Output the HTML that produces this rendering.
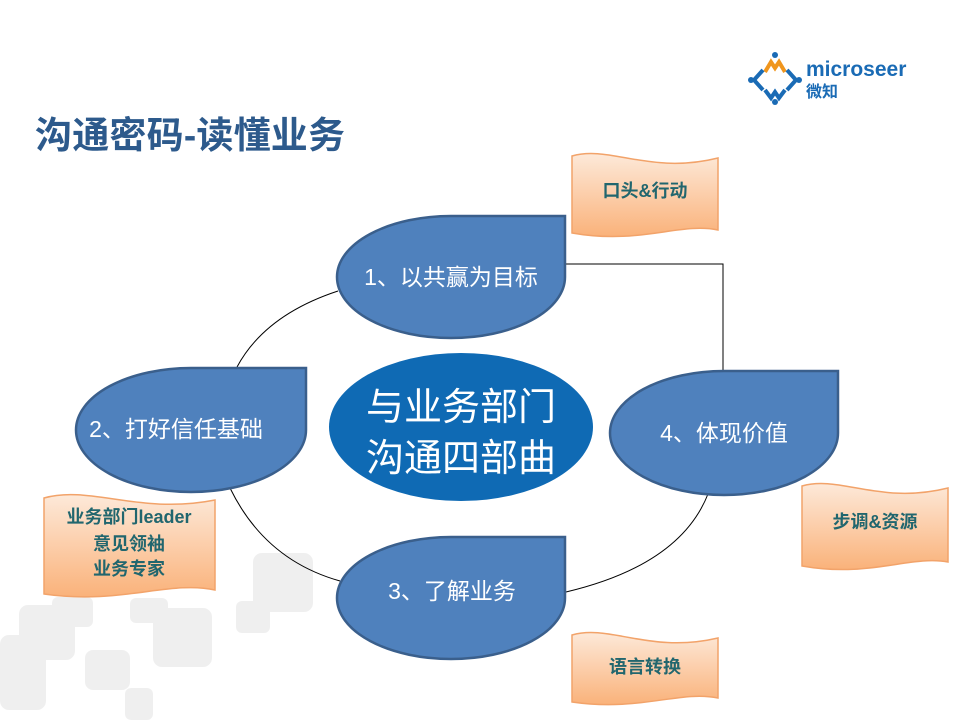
<!DOCTYPE html>
<html><head><meta charset="utf-8"><style>
html,body{margin:0;padding:0;background:#fff;}
body{width:960px;height:720px;overflow:hidden;position:relative;font-family:"Liberation Sans","Noto Sans CJK SC",sans-serif;}
</style></head><body>
<svg width="960" height="720" viewBox="0 0 960 720" xmlns="http://www.w3.org/2000/svg" style="position:absolute;left:0;top:0">
<defs>
<linearGradient id="og" x1="0" y1="0" x2="0" y2="1">
<stop offset="0" stop-color="#fde9d9"/><stop offset="1" stop-color="#fab27a"/>
</linearGradient>
</defs>
<g fill="#e6e6e6" opacity="0.6">
<rect x="253" y="553" width="60" height="59" rx="9"/>
<rect x="236" y="601" width="34" height="32" rx="6"/>
<rect x="153" y="608" width="59" height="59" rx="9"/>
<rect x="19" y="605" width="56" height="55" rx="9"/>
<rect x="0" y="635" width="46" height="75" rx="9"/>
<rect x="52" y="597" width="41" height="30" rx="6"/>
<rect x="85" y="650" width="45" height="40" rx="8"/>
<rect x="125" y="688" width="28" height="32" rx="6"/>
<rect x="130" y="598" width="38" height="25" rx="6"/>
</g>
<g>
<circle cx="775" cy="55" r="3" fill="#1a6bb5"/>
<path d="M765 72 L771 62 L775 68 L779 62 L785 72" fill="none" stroke="#f0961e" stroke-width="4"/>
<path d="M763 70 L754 80 L763 90 M787 70 L796 80 L787 90 M765 90 L771 98 L775 92 L779 98 L785 90" fill="none" stroke="#1a6bb5" stroke-width="4"/>
<circle cx="751" cy="80" r="3" fill="#1a6bb5"/><circle cx="799" cy="80" r="3" fill="#1a6bb5"/><circle cx="775" cy="102" r="3" fill="#1a6bb5"/>
<text x="806" y="76" font-size="21" font-weight="bold" fill="#1a6bb5" font-family="Liberation Sans,sans-serif">microseer</text>
<text x="806" y="97" font-size="16" font-weight="bold" fill="#1a6bb5" font-family="Noto Sans CJK SC,sans-serif">微知</text>
</g>
<text x="35" y="148" font-size="37" font-weight="bold" fill="#2d5a8c" font-family="Liberation Sans,Noto Sans CJK SC,sans-serif" textLength="310">沟通密码-读懂业务</text>
<path d="M565 264 L723 264 L723 372" fill="none" stroke="#000" stroke-width="1"/>
<path d="M338 291 Q265 315 237 367" fill="none" stroke="#000" stroke-width="1"/>
<path d="M230 488 Q265 560 340 581" fill="none" stroke="#000" stroke-width="1"/>
<path d="M566 592 Q680 565 708 494" fill="none" stroke="#000" stroke-width="1"/>
<ellipse cx="461" cy="427" rx="132" ry="74" fill="#0f6ab4"/>
<text x="461" y="420" font-size="38" fill="#fff" text-anchor="middle" font-family="Noto Sans CJK SC,sans-serif">与业务部门</text>
<text x="461" y="471" font-size="38" fill="#fff" text-anchor="middle" font-family="Noto Sans CJK SC,sans-serif">沟通四部曲</text>
<g fill="#4f81bd" stroke="#3a5f8c" stroke-width="2.5">
<path d="M451 216 L565 216 L565 277 A114 61 0 1 1 451 216 Z"/>
<path d="M191 368 L306 368 L306 430 A115 62 0 1 1 191 368 Z"/>
<path d="M724 371 L838 371 L838 433 A114 62 0 1 1 724 371 Z"/>
<path d="M451 537 L565 537 L565 598 A114 61 0 1 1 451 537 Z"/>
</g>
<g fill="#fff" font-size="23" text-anchor="middle" font-family="Liberation Sans,Noto Sans CJK SC,sans-serif">
<text x="451" y="285">1、以共赢为目标</text>
<text x="176" y="437">2、打好信任基础</text>
<text x="724" y="441">4、体现价值</text>
<text x="452" y="599">3、了解业务</text>
</g>
<g fill="url(#og)" stroke="#f2a36a" stroke-width="1.5">
<path d="M572 156 C610 145 650 175 718 158 L718 230 C680 222 640 245 572 233 Z"/>
<path d="M44 498 C90 485 140 515 215 500 L215 590 C170 580 120 605 44 594 Z"/>
<path d="M802 486 C840 475 880 505 948 488 L948 562 C910 555 870 578 802 566 Z"/>
<path d="M572 635 C610 624 650 654 718 638 L718 698 C680 690 640 712 572 702 Z"/>
</g>
<g fill="#21666e" font-size="18" font-weight="bold" text-anchor="middle" font-family="Liberation Sans,Noto Sans CJK SC,sans-serif">
<text x="645" y="197">口头&amp;行动</text>
<text x="129" y="523">业务部门leader</text>
<text x="129" y="550">意见领袖</text>
<text x="129" y="575">业务专家</text>
<text x="875" y="528">步调&amp;资源</text>
<text x="645" y="673">语言转换</text>
</g>
</svg>
</body></html>
